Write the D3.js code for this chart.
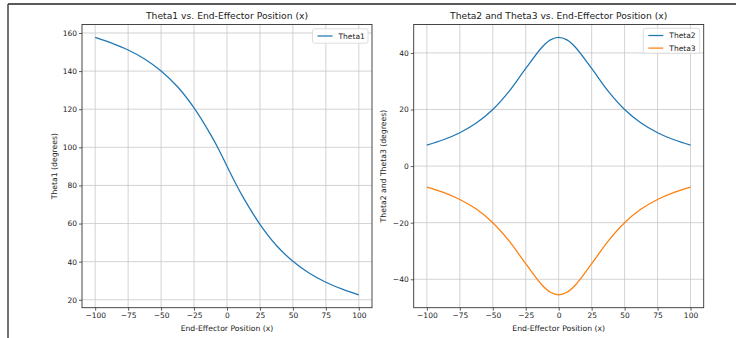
<!DOCTYPE html>
<html>
<head>
<meta charset="utf-8">
<script src="https://cdn.jsdelivr.net/npm/d3@7"></script>
<style>
  html, body { margin: 0; padding: 0; background: #fff; }
  svg { display: block; font-family: "DejaVu Sans", sans-serif; }
</style>
</head>
<body>
<svg id="chart" width="736" height="338"></svg>
<script>
// ---- data ----
const xPositions = [-100, -87.5, -75, -62.5, -50, -37.5, -25, -12.5, -6.25, 0, 6.25, 12.5, 25, 37.5, 50, 62.5, 75, 87.5, 100];
const theta1 = [157.7, 154.7, 151.1, 146.4, 140.1, 131.8, 120.7, 106.8, 98.9, 90.1, 81.4, 73.5, 59.6, 48.5, 40.2, 33.9, 29.2, 25.6, 22.6];
const theta2 = [7.4, 9.3, 11.8, 15.2, 20.0, 26.5, 34.5, 42.1, 44.6, 45.5, 44.6, 42.1, 34.5, 26.5, 20.0, 15.2, 11.8, 9.3, 7.4];
const theta3 = [-7.4, -9.3, -11.8, -15.2, -20.0, -26.5, -34.5, -42.1, -44.6, -45.5, -44.6, -42.1, -34.5, -26.5, -20.0, -15.2, -11.8, -9.3, -7.4];
const xTicks = [-100, -75, -50, -25, 0, 25, 50, 75, 100];
const yTicksLeft = [20, 40, 60, 80, 100, 120, 140, 160];
const yTicksRight = [-40, -20, 0, 20, 40];
const titles = ["Theta1 vs. End-Effector Position (x)", "Theta2 and Theta3 vs. End-Effector Position (x)"];
const xLabel = "End-Effector Position (x)";
const yLabels = ["Theta1 (degrees)", "Theta2 and Theta3 (degrees)"];

const svg = d3.select("#chart");

// outer frame (top and left edges only, as in the picture)
svg.append("line").attr("x1", 8).attr("y1", 4).attr("x2", 736).attr("y2", 4)
  .attr("stroke", "#222").attr("stroke-width", 1.5);
svg.append("line").attr("x1", 8).attr("y1", 4).attr("x2", 8).attr("y2", 338)
  .attr("stroke", "#444").attr("stroke-width", 1.5);

function extentPad(arrs) {
  const all = arrs.flat();
  const lo = d3.min(all), hi = d3.max(all), m = (hi - lo) * 0.05;
  return [lo - m, hi + m];
}

function panel(opt) {
  const { left, right, top, bottom, series, yTicks, title, yLabel, legendBox } = opt;
  const x = d3.scaleLinear().domain([-110, 110]).range([left, right]);
  const y = d3.scaleLinear().domain(extentPad(series.map(s => s.values))).range([bottom, top]);
  const g = svg.append("g");

  // grid
  g.append("g").selectAll("line").data(xTicks).join("line")
    .attr("x1", d => x(d)).attr("x2", d => x(d)).attr("y1", top).attr("y2", bottom)
    .attr("stroke", "#c8c8c8").attr("stroke-width", 0.8);
  g.append("g").selectAll("line").data(yTicks).join("line")
    .attr("y1", d => y(d)).attr("y2", d => y(d)).attr("x1", left).attr("x2", right)
    .attr("stroke", "#c8c8c8").attr("stroke-width", 0.8);

  // lines
  const line = d3.line().x((d, i) => x(xPositions[i])).y(d => y(d)).curve(d3.curveCatmullRom.alpha(0.5));
  series.forEach(s => {
    g.append("path").attr("d", line(s.values)).attr("fill", "none")
      .attr("stroke", s.color).attr("stroke-width", 1.25);
  });

  // axes
  const xa = g.append("g").attr("transform", `translate(0,${bottom})`)
    .call(d3.axisBottom(x).tickValues(xTicks).tickSize(3).tickPadding(2)
      .tickFormat(d => d < 0 ? "\u2212" + Math.abs(d) : d));
  const ya = g.append("g").attr("transform", `translate(${left},0)`)
    .call(d3.axisLeft(y).tickValues(yTicks).tickSize(3).tickPadding(2)
      .tickFormat(d => d < 0 ? "\u2212" + Math.abs(d) : d));
  [xa, ya].forEach(a => {
    a.select(".domain").remove();
    a.selectAll("line").attr("stroke", "#333").attr("stroke-width", 0.8);
    a.selectAll("text").attr("fill", "#222").style("font-size", "7.5px")
      .style("font-family", "DejaVu Sans, sans-serif");
  });

  // spines
  g.append("rect").attr("x", left).attr("y", top).attr("width", right - left).attr("height", bottom - top)
    .attr("fill", "none").attr("stroke", "#333").attr("stroke-width", 0.9);

  // titles and labels
  g.append("text").attr("x", (left + right) / 2).attr("y", 19).attr("text-anchor", "middle")
    .style("font-size", "9.2px").attr("fill", "#222").text(title);
  g.append("text").attr("x", (left + right) / 2).attr("y", 331).attr("text-anchor", "middle")
    .style("font-size", "7.7px").attr("fill", "#222").text(xLabel);
  g.append("text").attr("transform", `translate(${opt.yLabelX},${(top + bottom) / 2}) rotate(-90)`)
    .attr("text-anchor", "middle").style("font-size", "7.7px").attr("fill", "#222").text(yLabel);

  // legend
  const lg = g.append("g");
  lg.append("rect").attr("x", legendBox.x).attr("y", legendBox.y).attr("width", legendBox.w)
    .attr("height", legendBox.h).attr("rx", 2).attr("fill", "#fff").attr("fill-opacity", 0.85)
    .attr("stroke", "#d6d6d6").attr("stroke-width", 0.8);
  series.forEach((s, i) => {
    const ly = legendBox.y + 7.2 + i * 12.6;
    lg.append("line").attr("x1", legendBox.x + 5).attr("x2", legendBox.x + 20)
      .attr("y1", ly).attr("y2", ly).attr("stroke", s.color).attr("stroke-width", 1.25);
    lg.append("text").attr("x", legendBox.x + 26).attr("y", ly + 2.7)
      .style("font-size", "7.5px").attr("fill", "#222").text(s.name);
  });
}

panel({
  left: 82, right: 372, top: 24.5, bottom: 307.7,
  series: [{ name: "Theta1", values: theta1, color: "#1f77b4" }],
  yTicks: yTicksLeft, title: titles[0], yLabel: yLabels[0], yLabelX: 57,
  legendBox: { x: 312.5, y: 28.8, w: 55.5, h: 14.4 }
});

panel({
  left: 413.7, right: 703.7, top: 24.5, bottom: 307.7,
  series: [{ name: "Theta2", values: theta2, color: "#1f77b4" },
           { name: "Theta3", values: theta3, color: "#ff7f0e" }],
  yTicks: yTicksRight, title: titles[1], yLabel: yLabels[1], yLabelX: 386,
  legendBox: { x: 643.3, y: 28.3, w: 56.4, h: 25 }
});
</script>
</body>
</html>
